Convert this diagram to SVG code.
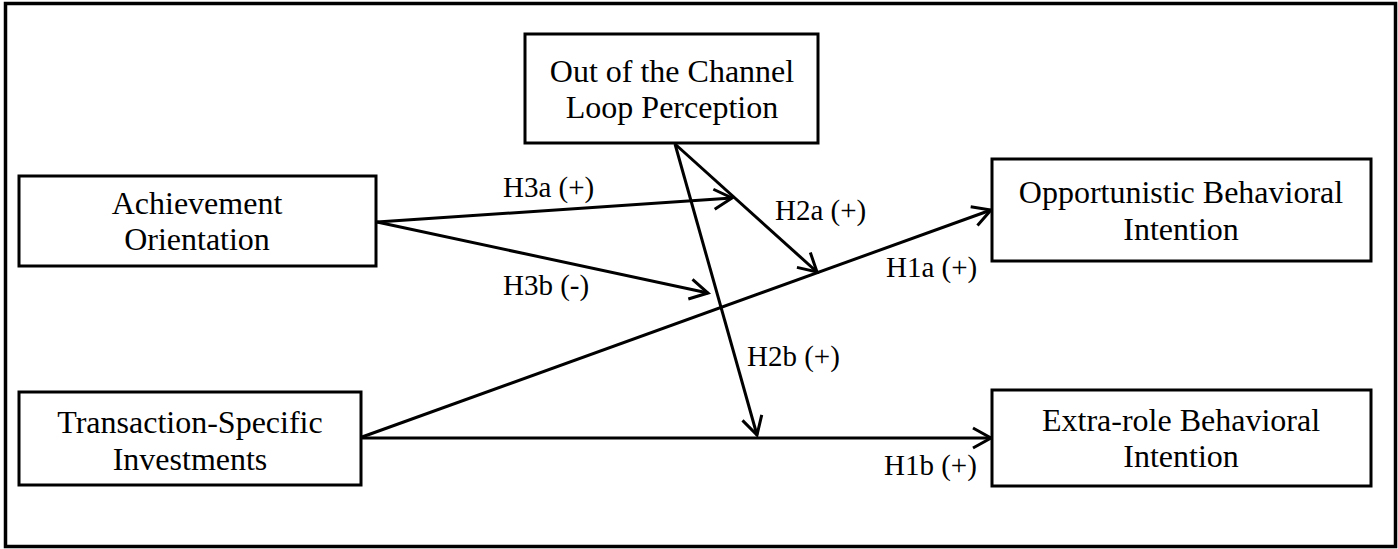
<svg xmlns="http://www.w3.org/2000/svg" width="1398" height="549" viewBox="0 0 1398 549">
<style>
.box{fill:#fff;stroke:#000;stroke-width:3}
.nt{font-family:"Liberation Serif","Times New Roman",serif;font-size:32px;fill:#000;text-anchor:middle}
.lb{font-family:"Liberation Serif","Times New Roman",serif;font-size:29px;fill:#000}
.cn{stroke:#000;stroke-width:3;fill:none;marker-end:url(#arr)}
</style>
<defs>
<marker id="arr" viewBox="-2 -2 24 24" markerWidth="24" markerHeight="24" refX="18" refY="10" orient="auto" markerUnits="userSpaceOnUse">
<path d="M0,0 L18,10 L0,20" fill="none" stroke="#000" stroke-width="3"/>
</marker>
</defs>
<rect x="0" y="0" width="1398" height="549" fill="#fff"/>
<rect x="5.5" y="3.5" width="1390" height="543" fill="none" stroke="#000" stroke-width="3.5"/>
<g id="connectors">
<line class="cn" x1="377" y1="222" x2="732" y2="198"/>
<line class="cn" x1="377" y1="222" x2="708" y2="293"/>
<line class="cn" x1="675" y1="144" x2="817" y2="272"/>
<line class="cn" x1="675" y1="144" x2="757" y2="435"/>
<line class="cn" x1="362" y1="437" x2="991" y2="210"/>
<line class="cn" x1="362" y1="438" x2="991" y2="438"/>
</g>
<g id="labels">
<text class="lb" x="503" y="197">H3a (+)</text>
<text class="lb" x="503" y="295">H3b (-)</text>
<text class="lb" x="775" y="220">H2a (+)</text>
<text class="lb" x="886" y="277">H1a (+)</text>
<text class="lb" x="747" y="366">H2b (+)</text>
<text class="lb" x="884" y="475">H1b (+)</text>
</g>
<g id="achievement">
<rect class="box" x="19" y="176" width="357" height="90"/>
<text class="nt" x="197" y="214">Achievement</text>
<text class="nt" x="197" y="250">Orientation</text>
</g>
<g id="loop">
<rect class="box" x="525" y="34" width="293" height="109"/>
<text class="nt" x="672" y="82">Out of the Channel</text>
<text class="nt" x="672" y="118">Loop Perception</text>
</g>
<g id="opportunistic">
<rect class="box" x="992" y="159" width="379" height="102"/>
<text class="nt" x="1181" y="203">Opportunistic Behavioral</text>
<text class="nt" x="1181" y="240">Intention</text>
</g>
<g id="transaction">
<rect class="box" x="19" y="392" width="342" height="93"/>
<text class="nt" x="190" y="433">Transaction-Specific</text>
<text class="nt" x="190" y="470">Investments</text>
</g>
<g id="extrarole">
<rect class="box" x="992" y="390" width="379" height="96"/>
<text class="nt" x="1181" y="431">Extra-role Behavioral</text>
<text class="nt" x="1181" y="467">Intention</text>
</g>
</svg>
